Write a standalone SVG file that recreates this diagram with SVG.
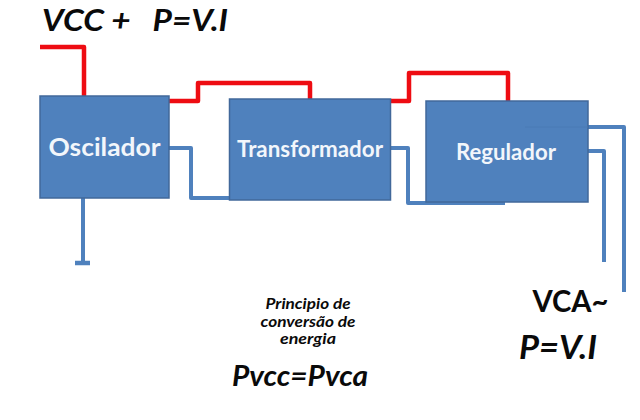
<svg xmlns="http://www.w3.org/2000/svg" width="640" height="420" viewBox="0 0 640 420">
<style>
.box{fill:#4f81bd;stroke:#41689a;stroke-width:1.5}
.w{fill:none;stroke-width:4;stroke-linejoin:round}
.r{stroke:#ee0c12;stroke-width:4.500}
.b{stroke:#4f81bd}
text{font-family:Lato,"Open Sans","Liberation Sans",sans-serif;font-weight:700;text-anchor:middle}
.l{fill:#f2f6fb}
.k{fill:#0a0a0a}
.i{font-style:italic}
</style>
<rect width="640" height="420" fill="#fff"/>
<g id="connectors">
<path class="w r" d="M40 47H84V98"/>
<path class="w r" d="M168 101H198V83H310V99"/>
<path class="w r" d="M391 101H409V73H508V101"/>
<path class="w b" d="M169 148H191V198H230"/>
<path class="w b" d="M83 198V263"/>
<path class="w b" d="M75 263H90" style="stroke-width:4.500"/>
<path class="w b" d="M391 148H408V203H505"/>
<path class="w b" d="M588 127H624V292"/>
<path class="w b" d="M588 151H604V262"/>
</g>
<g id="oscilador">
<rect class="box" x="40" y="96" width="129" height="102"/>
<text class="l" x="104.500" y="156" font-size="25" textLength="112" lengthAdjust="spacingAndGlyphs">Oscilador</text>
</g>
<g id="transformador">
<rect class="box" x="229.500" y="99" width="161" height="101"/>
<text class="l" x="310" y="157" font-size="22" textLength="146" lengthAdjust="spacingAndGlyphs">Transformador</text>
</g>
<g id="regulador">
<rect class="box" x="426" y="101" width="162" height="101"/>
<path d="M525 127H588" fill="none" stroke="#4a7ab4" stroke-width="0.800"/>
<text class="l" x="506" y="160" font-size="22" textLength="100" lengthAdjust="spacingAndGlyphs">Regulador</text>
</g>
<g id="labels">
<text class="k i" x="135" y="31" font-size="31" textLength="186" lengthAdjust="spacingAndGlyphs" xml:space="preserve">VCC +   P=V.I</text>
<text class="k i" x="308" y="309" font-size="14.500" textLength="85" lengthAdjust="spacingAndGlyphs">Principio de</text>
<text class="k i" x="308" y="327" font-size="14.500" textLength="95" lengthAdjust="spacingAndGlyphs">conversão de</text>
<text class="k i" x="308" y="344" font-size="14.500" textLength="56" lengthAdjust="spacingAndGlyphs">energia</text>
<text class="k i" x="300" y="386" font-size="29" textLength="136" lengthAdjust="spacingAndGlyphs">Pvcc=Pvca</text>
<text class="k" x="570.500" y="312" font-size="30" textLength="76" lengthAdjust="spacingAndGlyphs">VCA~</text>
<text class="k i" x="558" y="359" font-size="33" textLength="78" lengthAdjust="spacingAndGlyphs">P=V.I</text>
</g>
</svg>
